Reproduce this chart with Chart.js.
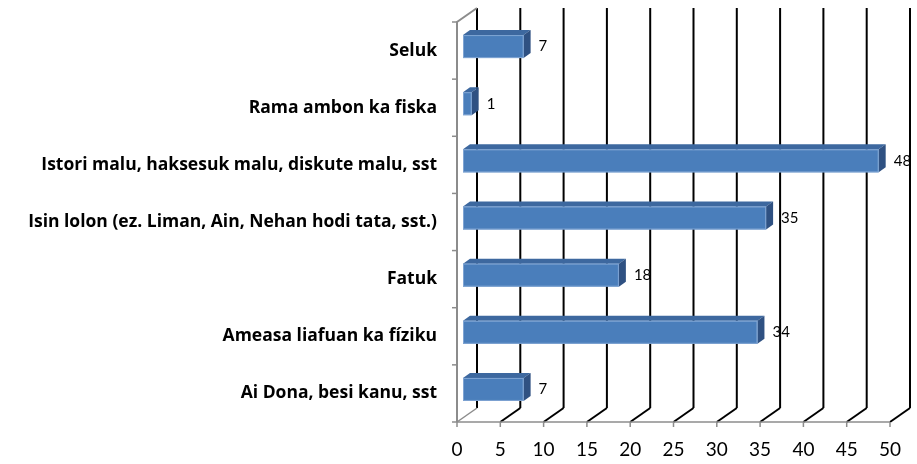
<!DOCTYPE html>
<html>
<head>
<meta charset="utf-8">
<script src="https://cdn.jsdelivr.net/npm/chart.js@4/dist/chart.umd.min.js"></script>
<style>
html,body{margin:0;padding:0;background:#fff;}
#wrap{width:917px;height:464px;}
</style>
</head>
<body>
<div id="wrap"><canvas id="c" width="917" height="464"></canvas></div>
<script>
const categories = [
  'Seluk',
  'Rama ambon ka fiska',
  'Istori malu, haksesuk malu, diskute malu, sst',
  'Isin lolon (ez. Liman, Ain, Nehan hodi tata, sst.)',
  'Fatuk',
  'Ameasa liafuan ka fíziku',
  'Ai Dona, besi kanu, sst'
];
const values = [7, 1, 48, 35, 18, 34, 7];
const axisMin = 0;
const axisMax = 50;
const axisStep = 5;

// 3D geometry (pixels)
const DEPTH_X = 20, DEPTH_Y = 14;    // wall depth
const BAR_OFF_X = 6, BAR_OFF_Y = 4;  // bar front plane offset
const BAR_D_X = 7, BAR_D_Y = 5;      // bar depth

const wallPlugin = {
  id: 'wall3d',
  beforeDatasetsDraw(chart) {
    const ctx = chart.ctx;
    const xs = chart.scales.x;
    const top = chart.chartArea.top, bottom = chart.chartArea.bottom;
    const left = chart.chartArea.left;
    ctx.save();
    xs.ticks.forEach((t, i) => {
      const px = xs.getPixelForValue(t.value);
      ctx.beginPath();
      ctx.strokeStyle = '#000';
      ctx.lineWidth = 2;
      ctx.moveTo(px + DEPTH_X, top - DEPTH_Y);
      ctx.lineTo(px + DEPTH_X, bottom - DEPTH_Y);
      ctx.stroke();
      ctx.beginPath();
      ctx.strokeStyle = i === 0 ? '#8c8c8c' : '#000';
      ctx.lineWidth = i === 0 ? 1.5 : 2;
      ctx.moveTo(px + DEPTH_X, bottom - DEPTH_Y);
      ctx.lineTo(px, bottom);
      ctx.stroke();
    });
    ctx.strokeStyle = '#8c8c8c';
    ctx.lineWidth = 2;
    ctx.beginPath();
    ctx.moveTo(left + DEPTH_X, top - DEPTH_Y);
    ctx.lineTo(left, top);
    ctx.lineTo(left, bottom);
    ctx.stroke();
    const n = categories.length;
    const step = (bottom - top) / n;
    ctx.lineWidth = 1.5;
    for (let i = 0; i <= n; i++) {
      const y = top + step * i;
      ctx.beginPath();
      ctx.moveTo(left - 5, y);
      ctx.lineTo(left, y);
      ctx.stroke();
    }
    ctx.beginPath();
    ctx.moveTo(left, bottom);
    ctx.lineTo(xs.getPixelForValue(axisMax), bottom);
    ctx.stroke();
    xs.ticks.forEach(t => {
      const px = xs.getPixelForValue(t.value);
      ctx.beginPath();
      ctx.moveTo(px, bottom);
      ctx.lineTo(px, bottom + 5);
      ctx.stroke();
    });
    ctx.restore();
  },
  afterDatasetsDraw(chart) {
    const ctx = chart.ctx;
    const meta = chart.getDatasetMeta(0);
    ctx.save();
    meta.data.forEach((el, i) => {
      const p = el.getProps(['x', 'y', 'base', 'height'], true);
      const x0 = p.base + BAR_OFF_X, x1 = p.x + BAR_OFF_X;
      const yc = p.y - BAR_OFF_Y;
      const t = yc - p.height / 2, b = yc + p.height / 2;
      ctx.beginPath();
      ctx.moveTo(x0, t);
      ctx.lineTo(x0 + BAR_D_X, t - BAR_D_Y);
      ctx.lineTo(x1 + BAR_D_X, t - BAR_D_Y);
      ctx.lineTo(x1, t);
      ctx.closePath();
      ctx.fillStyle = '#3d689f';
      ctx.fill();
      ctx.beginPath();
      ctx.moveTo(x1, t);
      ctx.lineTo(x1 + BAR_D_X, t - BAR_D_Y);
      ctx.lineTo(x1 + BAR_D_X, b - BAR_D_Y);
      ctx.lineTo(x1, b);
      ctx.closePath();
      ctx.fillStyle = '#2f5182';
      ctx.fill();
      ctx.fillStyle = '#4a7ebb';
      ctx.fillRect(x0, t, x1 - x0, b - t);
      ctx.strokeStyle = '#7fa4d3';
      ctx.lineWidth = 1;
      ctx.strokeRect(x0 + 0.5, t + 0.5, x1 - x0 - 1, b - t - 1);
      ctx.fillStyle = '#000';
      ctx.font = '15px Lato';
      ctx.textBaseline = 'middle';
      ctx.textAlign = 'left';
      ctx.fillText(String(values[i]), x1 + BAR_D_X + 8, yc);
    });
    ctx.restore();
  }
};

new Chart(document.getElementById('c'), {
  type: 'bar',
  data: {
    labels: categories,
    datasets: [{
      data: values,
      backgroundColor: 'rgba(0,0,0,0)',
      borderWidth: 0,
      barThickness: 23
    }]
  },
  options: {
    indexAxis: 'y',
    responsive: false,
    animation: false,
    layout: { padding: { top: 22, right: 27, left: 0, bottom: 0 } },
    plugins: { legend: { display: false }, tooltip: { enabled: false } },
    scales: {
      x: {
        min: axisMin, max: axisMax,
        ticks: { stepSize: axisStep, color: '#000', font: { family: 'Lato', size: 19 }, padding: 16, maxRotation: 0 },
        grid: { display: false, drawTicks: false },
        border: { display: false },
        afterFit(s) { s.height = 42; s.paddingLeft = 0; s.paddingRight = 0; }
      },
      y: {
        ticks: { color: '#000', font: { family: 'Open Sans', size: 17.5, weight: 'bold' }, padding: 20 },
        grid: { display: false, drawTicks: false },
        border: { display: false },
        afterFit(s) { s.width = 457; s.paddingTop = 0; s.paddingBottom = 0; }
      }
    }
  },
  plugins: [wallPlugin]
});
</script>
</body>
</html>
